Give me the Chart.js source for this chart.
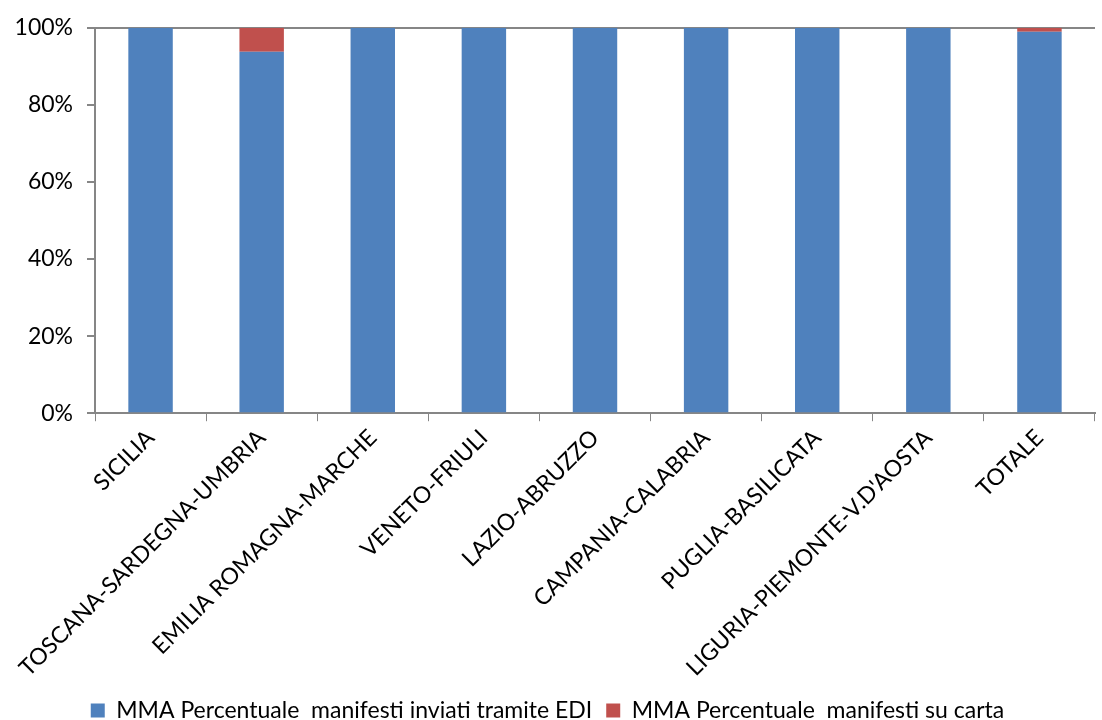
<!DOCTYPE html>
<html><head><meta charset="utf-8">
<script src="https://cdn.jsdelivr.net/npm/chart.js@4"></script>
<style>html,body{margin:0;padding:0;background:#fff}#wrap{width:1102px;height:720px}</style>
</head><body><div id="wrap"><canvas id="c" width="1102" height="720"></canvas></div>
<script>
const categories = ["SICILIA","TOSCANA-SARDEGNA-UMBRIA","EMILIA ROMAGNA-MARCHE","VENETO-FRIULI","LAZIO-ABRUZZO","CAMPANIA-CALABRIA","PUGLIA-BASILICATA","LIGURIA-PIEMONTE-V.D'AOSTA","TOTALE"];
const ediValues = [100, 93.8, 100, 100, 100, 100, 100, 100, 99.0];
const cartaValues = [0, 6.2, 0, 0, 0, 0, 0, 0, 1.0];
const seriesNames = ["MMA Percentuale  manifesti inviati tramite EDI", "MMA Percentuale  manifesti su carta"];
const yTicks = [0, 20, 40, 60, 80, 100];

const FONT = "Lato";
new Chart(document.getElementById('c'), {
  type: 'bar',
  data: {
    labels: categories,
    datasets: [
      {label: seriesNames[0], data: ediValues, backgroundColor: '#4F81BD', barPercentage: 0.8, categoryPercentage: 0.5},
      {label: seriesNames[1], data: cartaValues, backgroundColor: '#C0504D', barPercentage: 0.8, categoryPercentage: 0.5}
    ]
  },
  options: {
    responsive: false,
    animation: false,
    layout: {padding: {left: 0, right: 7, top: 22, bottom: -12}},
    plugins: {
      legend: {
        position: 'bottom',
        labels: {font: {family: FONT, size: 23}, color: '#000', boxWidth: 14, boxHeight: 14, padding: 14}
      },
      tooltip: {enabled: false}
    },
    scales: {
      x: {
        stacked: true,
        grid: {offset: true, drawOnChartArea: false, color: '#868686', tickLength: 8},
        border: {color: '#868686', width: 2},
        ticks: {font: {family: FONT, size: 23}, color: '#000', minRotation: 45, maxRotation: 45, padding: 3}
      },
      y: {
        stacked: true,
        min: 0, max: 100,
        afterBuildTicks: (s) => { s.ticks = yTicks.map(v => ({value: v})); },
        grid: {color: (ctx) => ctx.tick && ctx.tick.value === 100 ? '#868686' : 'rgba(0,0,0,0)', tickColor: '#868686', tickLength: 8, lineWidth: 2},
        border: {color: '#868686', width: 2},
        ticks: {font: {family: FONT, size: 23}, color: '#000', padding: 14, callback: (v) => v + '%'},
        afterFit: (s) => { s.width = 95; }
      }
    }
  }
});
</script></body></html>
